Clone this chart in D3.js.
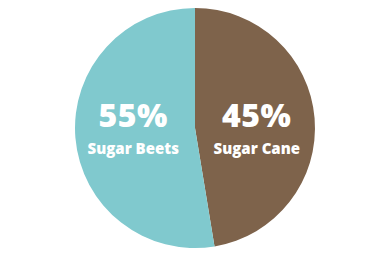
<!DOCTYPE html>
<html>
<head>
<meta charset="utf-8">
<script src="https://cdn.jsdelivr.net/npm/d3@7"></script>
<style>
  body { margin: 0; background: #fff; }
  svg { display: block; font-family: "Open Sans", "Lato", sans-serif; }
</style>
</head>
<body>
<div id="chart"></div>
<script>
// Sugar sources pie
const categories = ["Sugar Cane", "Sugar Beets"];
const percentLabels = ["45%", "55%"];
// slice shares as drawn in the picture
const sliceValues = [47.4, 52.6];
const colors = ["#7e634b", "#80c9ce"];

const width = 390;
const height = 259;
const cx = 195;
const cy = 128;
const radius = 120;

const svg = d3.select("#chart")
    .append("svg")
    .attr("width", width)
    .attr("height", height);

const g = svg.append("g")
    .attr("transform", `translate(${cx},${cy})`);

const pie = d3.pie()
    .sort(null)
    .value(d => d.value);

const data = categories.map((c, i) => ({
    name: c,
    label: percentLabels[i],
    value: sliceValues[i],
    color: colors[i]
}));

const arcs = pie(data);

const arc = d3.arc()
    .innerRadius(0)
    .outerRadius(radius);

g.selectAll("path.slice")
    .data(arcs)
    .enter()
    .append("path")
    .attr("class", "slice")
    .attr("d", arc)
    .attr("fill", d => d.data.color);

// labels sit at a fixed height, x taken from a label arc centroid
const labelArc = d3.arc()
    .innerRadius(62)
    .outerRadius(62);

const labels = g.selectAll("g.label")
    .data(arcs)
    .enter()
    .append("g")
    .attr("class", "label")
    .attr("transform", d => `translate(${labelArc.centroid(d)[0]},0)`);

labels.append("text")
    .attr("y", -1)
    .attr("text-anchor", "middle")
    .attr("fill", "#fff")
    .style("font-size", "32px")
    .style("font-weight", "800")
    .style("letter-spacing", "0.5px")
    .text(d => d.data.label);

labels.append("text")
    .attr("y", 26)
    .attr("text-anchor", "middle")
    .attr("fill", "#fff")
    .style("font-size", "15px")
    .style("font-weight", "800")
    .text(d => d.data.name);
</script>
</body>
</html>
